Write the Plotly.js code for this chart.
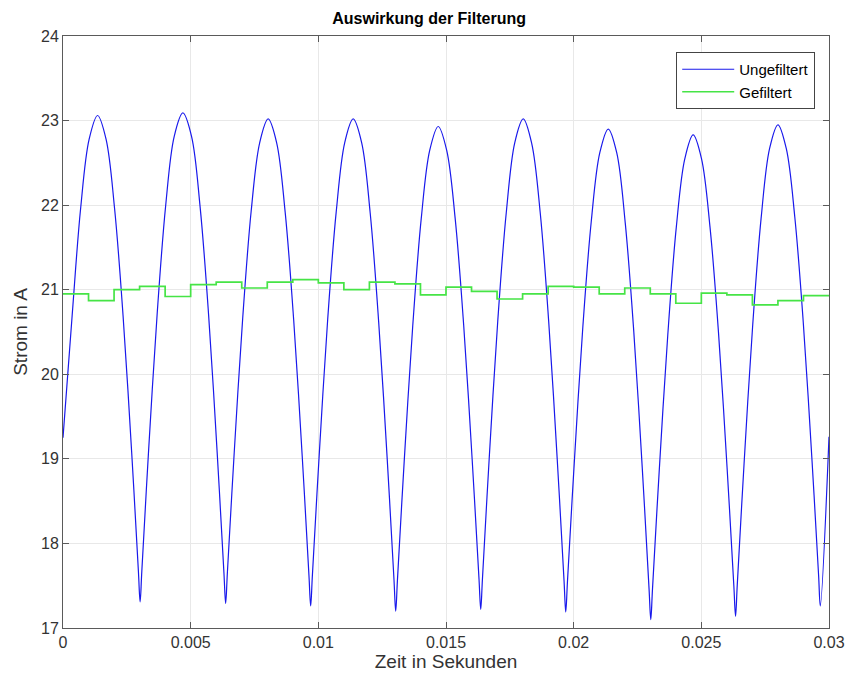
<!DOCTYPE html>
<html>
<head>
<meta charset="utf-8">
<script src="https://cdn.plot.ly/plotly-3.0.1.min.js"></script>
<style>html,body{margin:0;padding:0;background:#fff;}#chart{width:845px;height:677px;}</style>
</head>
<body>
<div id="chart"></div>
<script>
// Ungefiltert (raw current)
const tRaw = [
  0, 0.000357, 0.00069, 0.001024, 0.001355,
  0.001686, 0.00202, 0.002353, 0.002687, 0.002953, 0.00302,
  0.003087, 0.003353, 0.003687, 0.00402, 0.004354, 0.004695,
  0.005036, 0.00537, 0.005703, 0.006037, 0.006303, 0.00637,
  0.006437, 0.006703, 0.007037, 0.00737, 0.007704, 0.008035,
  0.008366, 0.0087, 0.009033, 0.009367, 0.009633, 0.0097,
  0.009767, 0.010033, 0.010367, 0.0107, 0.011034, 0.011365,
  0.011696, 0.01203, 0.012363, 0.012697, 0.012963, 0.01303,
  0.013097, 0.013363, 0.013697, 0.01403, 0.014364, 0.014695,
  0.015026, 0.01536, 0.015693, 0.016027, 0.016293, 0.01636,
  0.016427, 0.016693, 0.017027, 0.01736, 0.017694, 0.018025,
  0.018356, 0.01869, 0.019023, 0.019357, 0.019623, 0.01969,
  0.019757, 0.020023, 0.020357, 0.02069, 0.021024, 0.021355,
  0.021686, 0.02202, 0.022353, 0.022687, 0.022953, 0.02302,
  0.023087, 0.023353, 0.023687, 0.02402, 0.024354, 0.02468,
  0.025006, 0.02534, 0.025673, 0.026007, 0.026273, 0.02634,
  0.026407, 0.026673, 0.027007, 0.02734, 0.027674, 0.0280,
  0.028326, 0.02866, 0.028993, 0.029327, 0.029593, 0.02966,
  0.0300
];
const iRaw = [
  19.25, 20.69, 21.96, 22.78, 23.06,
  22.78, 21.96, 20.69, 19.09, 17.67, 17.31,
  17.67, 19.10, 20.71, 21.99, 22.81, 23.09,
  22.81, 21.98, 20.70, 19.08, 17.65, 17.29,
  17.65, 19.06, 20.66, 21.93, 22.74, 23.02,
  22.74, 21.92, 20.65, 19.04, 17.62, 17.26,
  17.62, 19.04, 20.65, 21.92, 22.74, 23.02,
  22.74, 21.91, 20.62, 19.00, 17.57, 17.20,
  17.56, 18.97, 20.57, 21.84, 22.65, 22.93,
  22.65, 21.84, 20.58, 18.98, 17.58, 17.22,
  17.58, 19.01, 20.63, 21.91, 22.74, 23.02,
  22.73, 21.91, 20.62, 18.99, 17.56, 17.19,
  17.55, 18.95, 20.55, 21.81, 22.62, 22.90,
  22.62, 21.79, 20.51, 18.89, 17.46, 17.10,
  17.46, 18.87, 20.47, 21.74, 22.55, 22.83,
  22.55, 21.74, 20.49, 18.90, 17.50, 17.14,
  17.51, 18.94, 20.56, 21.84, 22.67, 22.95,
  22.67, 21.86, 20.61, 19.02, 17.62, 17.26,
  19.26
];
// Gefiltert (filtered current), step values
const tFilt = [
  0, 0.001, 0.002, 0.003, 0.004, 0.005, 0.006, 0.007, 0.008, 0.009,
  0.010, 0.011, 0.012, 0.013, 0.014, 0.015, 0.016, 0.017, 0.018, 0.019,
  0.020, 0.021, 0.022, 0.023, 0.024, 0.025, 0.026, 0.027, 0.028, 0.029, 0.030
];
const iFilt = [
  20.95, 20.87, 21.00, 21.04, 20.92, 21.06, 21.09, 21.02, 21.09, 21.12,
  21.08, 21.00, 21.09, 21.07, 20.94, 21.03, 20.98, 20.89, 20.95, 21.04,
  21.03, 20.95, 21.02, 20.95, 20.84, 20.96, 20.94, 20.82, 20.87, 20.93, 20.93
];
const seriesNames = ['Ungefiltert', 'Gefiltert'];
const xTicks = [0, 0.005, 0.01, 0.015, 0.02, 0.025, 0.03];
const xTickText = ['0', '0.005', '0.01', '0.015', '0.02', '0.025', '0.03'];
const yTicks = [17, 18, 19, 20, 21, 22, 23, 24];

const FONT = 'Liberation Sans, Arial, Helvetica, sans-serif';
const axisColor = '#5a5a5a';

const traces = [
  {x: tRaw, y: iRaw, name: seriesNames[0], type: 'scatter', mode: 'lines',
   line: {color: 'rgb(25,25,235)', width: 1.2, shape: 'spline', smoothing: 1}},
  {x: tFilt, y: iFilt, name: seriesNames[1], type: 'scatter', mode: 'lines',
   line: {color: 'rgb(70,228,70)', width: 1.7, shape: 'hv'}}
];

const layout = {
  width: 845, height: 677,
  margin: {l: 63, r: 16, t: 36, b: 49},
  paper_bgcolor: '#ffffff', plot_bgcolor: '#ffffff',
  font: {family: FONT, color: '#333333', size: 15},
  title: {text: '<b>Auswirkung der Filterung</b>', font: {family: FONT, size: 16, color: '#000'},
          x: 0.478, xanchor: 'center', xref: 'paper', y: 1, yref: 'paper', yanchor: 'bottom', pad: {b: 12}},
  showlegend: true,
  legend: {x: 0.982, y: 0.973, xanchor: 'right', yanchor: 'top',
           bgcolor: '#ffffff', bordercolor: '#444444', borderwidth: 1,
           itemwidth: 52,
           font: {family: FONT, size: 15, color: '#000'}, tracegroupgap: 0},
  xaxis: {
    range: [0, 0.03], tickvals: xTicks, ticktext: xTickText,
    showgrid: true, gridcolor: '#e8e8e8', gridwidth: 1, zeroline: false,
    showline: true, linecolor: axisColor, linewidth: 1, mirror: 'ticks',
    ticks: 'inside', ticklen: 6, tickcolor: axisColor,
    tickfont: {family: FONT, size: 16, color: '#333'},
    title: {text: 'Zeit in Sekunden', font: {family: FONT, size: 19, color: '#333'}, standoff: 4}
  },
  yaxis: {
    range: [17, 24], tickvals: yTicks,
    showgrid: true, gridcolor: '#e8e8e8', gridwidth: 1, zeroline: false,
    showline: true, linecolor: axisColor, linewidth: 1, mirror: 'ticks',
    ticks: 'inside', ticklen: 6, tickcolor: axisColor,
    tickfont: {family: FONT, size: 16, color: '#333'},
    title: {text: 'Strom in A', font: {family: FONT, size: 19, color: '#333'}, standoff: 8}
  }
};

Plotly.newPlot('chart', traces, layout, {displayModeBar: false, staticPlot: true});
</script>
</body>
</html>
